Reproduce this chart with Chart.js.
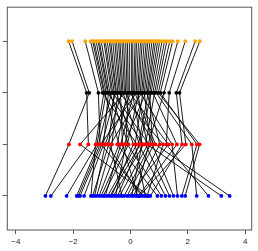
<!DOCTYPE html>
<html>
<head>
<meta charset="utf-8">
<script src="https://cdn.jsdelivr.net/npm/chart.js@4.4.1/dist/chart.umd.min.js"></script>
<style>
  html, body { margin: 0; padding: 0; background: #fff; }
  #wrap { width: 258px; height: 251px; }
</style>
</head>
<body>
<div id="wrap"><canvas id="chart" width="258" height="251"></canvas></div>
<script>
// rows (y level) and tick labels
const rowLevels = [1, 2, 3, 4];
const xTicks = [-4, -2, 0, 2, 4];

// values per row, index-aligned: point i of each row is linked to point i of the next row
const blueVals = [-2.78, -2.97, -1.82, -0.80, -1.38, -1.10, -2.23, -0.60, -1.62, -0.95,
                  -1.88, 0.18, -1.32, -1.76, -0.66, -1.18, 0.58, 0.25, -1.25, -0.45,
                  0.64, -0.12, 0.94, -0.52, -0.05, 0.38, 0.04, -0.88, 3.46, 0.45,
                  3.17, 1.08, 1.64, -0.30, 0.52, -0.22, -1.02, 0.10, 1.22, 1.50,
                  -0.72, 0.28, 1.36, 2.31, 1.91, 1.79, -0.38, 2.72, 0.69, 0.32];
const redVals = [-1.47, -2.15, -1.06, 0.22, -1.22, -0.40, -1.17, 0.46, -0.94, -0.07,
                 -1.12, 0.64, -0.76, -1.00, 0.10, -0.65, 1.14, -0.28, -0.88, 0.31,
                 -1.76, 0.82, -0.46, -0.16, 1.32, -0.82, 0.40, -0.34, 0.87, -1.03,
                 0.58, -0.11, 1.45, -0.70, 0.16, 0.70, -0.22, 1.02, 0.28, 0.76,
                 0.34, 1.62, 0.52, 2.14, 2.41, 2.32, 0.61, 1.25, 1.80, 1.93];
const blackVals = [-1.53, -1.44, -1.12, -0.98, -0.93, -0.90, -0.85, -0.80, -0.77, -0.72,
                   -0.66, -0.62, -0.57, -0.52, -0.49, -0.44, -0.39, -0.35, -0.30, -0.26,
                   -0.21, -0.17, -0.12, -0.08, -0.03, 0.02, 0.06, 0.11, 0.15, 0.20,
                   0.25, 0.29, 0.34, 0.39, 0.43, 0.48, 0.53, 0.58, 0.62, 0.67,
                   0.72, 0.78, 0.84, 0.90, 0.97, 1.04, 1.17, 1.35, 1.60, 1.71];
const orangeVals = [-2.16, -2.04, -1.58, -1.39, -1.32, -1.27, -1.20, -1.13, -1.09, -1.02,
                    -0.93, -0.88, -0.81, -0.74, -0.69, -0.62, -0.55, -0.49, -0.42, -0.37,
                    -0.30, -0.24, -0.17, -0.11, -0.04, 0.03, 0.08, 0.16, 0.21, 0.28,
                    0.35, 0.41, 0.48, 0.55, 0.61, 0.68, 0.75, 0.82, 0.88, 0.95,
                    1.02, 1.10, 1.19, 1.27, 1.37, 1.47, 1.65, 1.91, 2.26, 2.42];

const rows = [
    { vals: blueVals, color: '#0000ff' },
    { vals: redVals, color: '#ff0000' },
    { vals: blackVals, color: '#000000' },
    { vals: orangeVals, color: '#ffa500' }
];

const datasets = [];

// points on top
rows.forEach((r, k) => {
    datasets.push({
        data: r.vals.map(v => ({ x: v, y: rowLevels[k] })),
        backgroundColor: r.color,
        borderColor: r.color,
        pointRadius: 1.9,
        borderWidth: 0,
        showLine: false,
        order: 0
    });
});

// connecting lines
blueVals.forEach((_, i) => {
    datasets.push({
        data: rows.map((r, k) => ({ x: r.vals[i], y: rowLevels[k] })),
        borderColor: '#000',
        borderWidth: 0.9,
        pointRadius: 0,
        showLine: true,
        fill: false,
        tension: 0,
        order: 1
    });
});

const boxPlugin = {
    id: 'box',
    afterDraw(chart) {
        const a = chart.chartArea, c = chart.ctx;
        c.save();
        c.strokeStyle = '#555';
        c.lineWidth = 1;
        c.strokeRect(a.left, a.top, a.right - a.left, a.bottom - a.top);
        c.restore();
    }
};

new Chart(document.getElementById('chart').getContext('2d'), {
    type: 'scatter',
    data: { datasets },
    options: {
        responsive: false,
        animation: false,
        devicePixelRatio: 1,
        layout: { padding: { top: 3.3, right: 6.3, bottom: 0, left: 0 } },
        plugins: { legend: { display: false }, tooltip: { enabled: false } },
        scales: {
            x: {
                type: 'linear', min: -4.30, max: 4.23,
                afterBuildTicks: s => { s.ticks = xTicks.map(v => ({ value: v })); },
                afterFit: s => { s.height = 21; },
                grid: { drawOnChartArea: false, drawTicks: true, tickLength: 4, color: '#555' },
                border: { display: false },
                ticks: {
                    color: '#222', padding: 3, maxRotation: 0, autoSkip: false,
                    font: { family: 'Liberation Sans, Arial, sans-serif', size: 8 },
                    callback: v => (v < 0 ? '\u2212' + Math.abs(v) : '' + v)
                }
            },
            y: {
                type: 'linear', min: 0.34, max: 4.66,
                afterBuildTicks: s => { s.ticks = rowLevels.map(v => ({ value: v })); },
                afterFit: s => { s.width = 7.3; },
                grid: { drawOnChartArea: false, drawTicks: true, tickLength: 4.5, color: '#555' },
                border: { display: false },
                ticks: { display: true, callback: () => '', padding: 0 }
            }
        }
    },
    plugins: [boxPlugin]
});
</script>
</body>
</html>
